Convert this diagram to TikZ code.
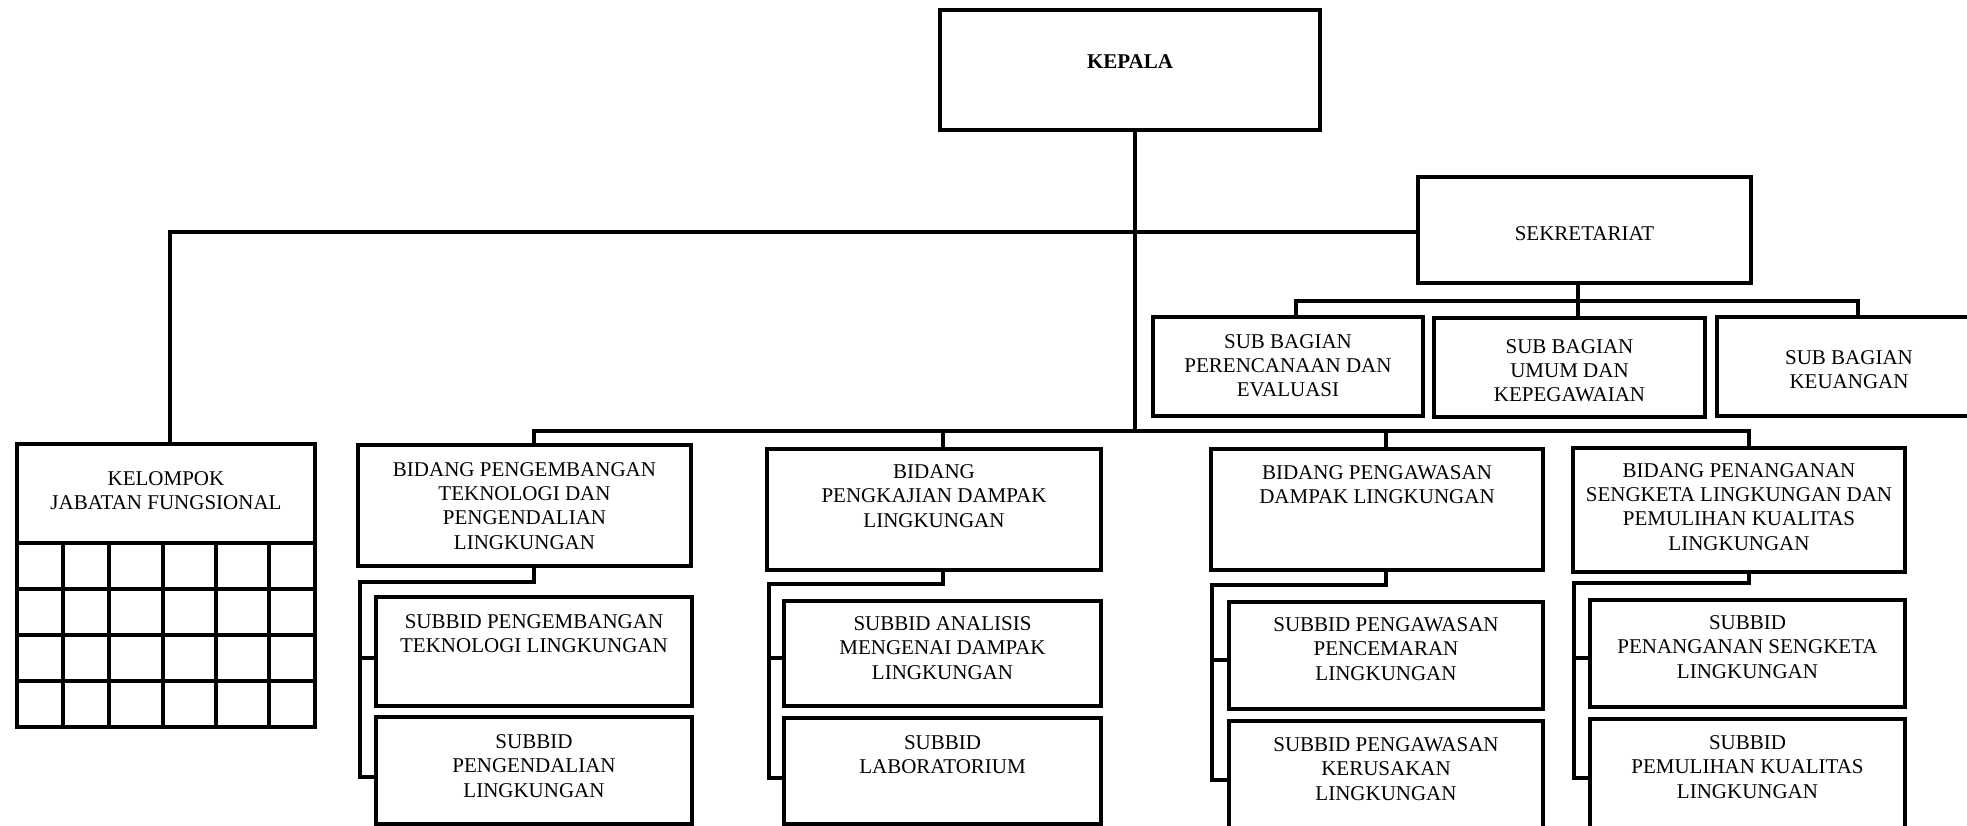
\documentclass[tikz,border=0pt]{standalone}
\usepackage{fontspec}
\setmainfont{Liberation Serif}
\begin{document}
\begin{tikzpicture}[x=1pt,y=-1pt,
  box/.style={draw=black,line width=3.5pt,inner sep=0pt,outer sep=0pt,anchor=north west,fill=white},
  lbl/.style={inner sep=0pt,align=center,font=\fontsize{21}{24.2}\selectfont},
  ln/.style={draw=black,line width=3.5pt,line cap=rect,line join=miter}]
\useasboundingbox (0,0) rectangle (1967,826);
\clip (0,0) rectangle (1967,826);
% boxes
\node[box,minimum width=380pt,minimum height=120pt] (kepala) at (940,10) {};
\node[box,minimum width=333pt,minimum height=106pt] (sekr) at (1418,177) {};
\node[box,minimum width=270pt,minimum height=99pt] (sbA) at (1153,317) {};
\node[box,minimum width=271pt,minimum height=99pt] (sbB) at (1434,318) {};
\node[box,minimum width=268pt,minimum height=99pt] (sbC) at (1717,317) {};
\node[box,minimum width=298pt,minimum height=283pt] (kel) at (17,444) {};
\node[box,minimum width=333pt,minimum height=121pt] (b1) at (358,445) {};
\node[box,minimum width=334pt,minimum height=121pt] (b2) at (767,449) {};
\node[box,minimum width=332pt,minimum height=121pt] (b3) at (1211,449) {};
\node[box,minimum width=332pt,minimum height=124pt] (b4) at (1573,448) {};
\node[box,minimum width=316pt,minimum height=109pt] (s1a) at (376,597) {};
\node[box,minimum width=316pt,minimum height=107pt] (s1b) at (376,717) {};
\node[box,minimum width=317pt,minimum height=105pt] (s2a) at (784,601) {};
\node[box,minimum width=317pt,minimum height=106pt] (s2b) at (784,718) {};
\node[box,minimum width=314pt,minimum height=107pt] (s3a) at (1229,602) {};
\node[box,minimum width=314pt,minimum height=114pt] (s3b) at (1229,721) {};
\node[box,minimum width=315pt,minimum height=107pt] (s4a) at (1590,600) {};
\node[box,minimum width=315pt,minimum height=116pt] (s4b) at (1590,719) {};
% grid of kelompok
\foreach \yy in {543,589,635,681} \draw[ln] (kel.west |- 0,\yy) -- (kel.east |- 0,\yy);
\foreach \xx in {63,109,163,216,269} \draw[ln] (\xx,543) -- (kel.south -| \xx,0);
% labels
\node[lbl,font=\fontsize{21}{24.2}\selectfont\bfseries] (tkepala) at (kepala.north |- 0,62) {KEPALA};
\node[lbl] (tsekr) at (sekr.north |- 0,234) {SEKRETARIAT};
\node[lbl] (tsbA) at (sbA.north |- 0,366) {SUB BAGIAN\\PERENCANAAN DAN\\EVALUASI};
\node[lbl] (tsbB) at (sbB.north |- 0,371) {SUB BAGIAN\\UMUM DAN\\KEPEGAWAIAN};
\node[lbl] (tsbC) at (1849,370) {SUB BAGIAN\\KEUANGAN};
\node[lbl] (tkel) at (kel.north |- 0,491) {KELOMPOK\\JABATAN FUNGSIONAL};
\node[lbl] (tb1) at (b1.north |- 0,506) {BIDANG PENGEMBANGAN\\TEKNOLOGI DAN\\PENGENDALIAN\\LINGKUNGAN};
\node[lbl] (tb2) at (b2.north |- 0,496) {BIDANG\\PENGKAJIAN DAMPAK\\LINGKUNGAN};
\node[lbl] (tb3) at (b3.north |- 0,485) {BIDANG PENGAWASAN\\DAMPAK LINGKUNGAN};
\node[lbl] (tb4) at (b4.north |- 0,507) {BIDANG PENANGANAN\\SENGKETA LINGKUNGAN DAN\\PEMULIHAN KUALITAS\\LINGKUNGAN};
\node[lbl] (ts1a) at (s1a.north |- 0,634) {SUBBID PENGEMBANGAN\\TEKNOLOGI LINGKUNGAN};
\node[lbl] (ts1b) at (s1b.north |- 0,766) {SUBBID\\PENGENDALIAN\\LINGKUNGAN};
\node[lbl] (ts2a) at (s2a.north |- 0,648) {SUBBID ANALISIS\\MENGENAI DAMPAK\\LINGKUNGAN};
\node[lbl] (ts2b) at (s2b.north |- 0,755) {SUBBID\\LABORATORIUM};
\node[lbl] (ts3a) at (s3a.north |- 0,649) {SUBBID PENGAWASAN\\PENCEMARAN\\LINGKUNGAN};
\node[lbl] (ts3b) at (s3b.north |- 0,769) {SUBBID PENGAWASAN\\KERUSAKAN\\LINGKUNGAN};
\node[lbl] (ts4a) at (s4a.north |- 0,647) {SUBBID\\PENANGANAN SENGKETA\\LINGKUNGAN};
\node[lbl] (ts4b) at (s4b.north |- 0,767) {SUBBID\\PEMULIHAN KUALITAS\\LINGKUNGAN};
% connector coordinates
\coordinate (kx) at (1135,130);
\coordinate (bus) at (1135,431);
\coordinate (kj) at (1135,232);
\coordinate (kelx) at (170,232);
\coordinate (sx) at (1578,301);
% top connectors
\draw[ln] (kepala.south -| kx) -- (bus);
\draw[ln] (kelx) -- (sekr.west |- kj);
\draw[ln] (kelx) -- (kel.north -| kelx);
\draw[ln] (sekr.south -| sx) -- (sx);
\draw[ln] (sbA.north -| 1296,0) -- (1296,301) -- (1858,301) -- (sbC.north -| 1858,0);
\draw[ln] (sx) -- (sbB.north -| sx);
% bidang bus
\draw[ln] (b1.north -| 534,0) -- (534,431) -- (1749,431) -- (b4.north -| 1749,0);
\draw[ln] (943,431) -- (b2.north -| 943,0);
\draw[ln] (1386,431) -- (b3.north -| 1386,0);
% sub connectors
\draw[ln] (b1.south -| 534,0) -- (534,582) -- (360,582) -- (360,777) -- (s1b.west |- 0,777);
\draw[ln] (360,658) -- (s1a.west |- 0,658);
\draw[ln] (b2.south -| 943,0) -- (943,584) -- (769,584) -- (769,778) -- (s2b.west |- 0,778);
\draw[ln] (769,658) -- (s2a.west |- 0,658);
\draw[ln] (b3.south -| 1386,0) -- (1386,585) -- (1212,585) -- (1212,780) -- (s3b.west |- 0,780);
\draw[ln] (1212,660) -- (s3a.west |- 0,660);
\draw[ln] (b4.south -| 1749,0) -- (1749,583) -- (1574,583) -- (1574,778) -- (s4b.west |- 0,778);
\draw[ln] (1574,658) -- (s4a.west |- 0,658);
\end{tikzpicture}
\end{document}
